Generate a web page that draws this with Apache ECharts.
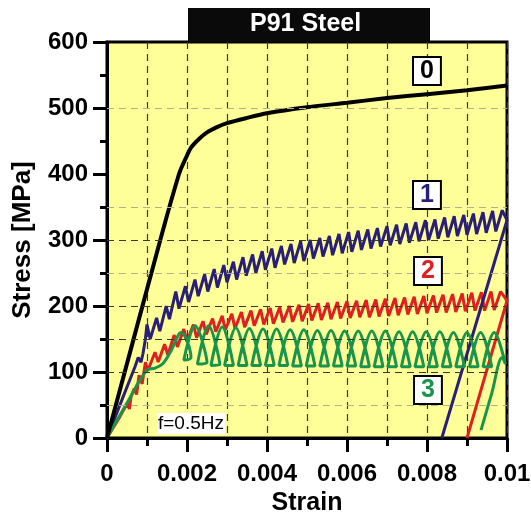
<!DOCTYPE html>
<html lang="en">
<head>
    <meta charset="UTF-8">
    <title>P91 Steel</title>
    <script src="https://cdn.jsdelivr.net/npm/echarts@6/dist/echarts.min.js"></script>
    <style type="text/css">
        body{ margin:0; background:#fff; }
        #main{ width:531px; height:517px; }
    </style>
</head>
<body>
<div id="main"></div>
<script type="application/javascript">
    // axis ticks
    var xTicks = [0, 0.002, 0.004, 0.006, 0.008, 0.01];
    var yTicks = [0, 100, 200, 300, 400, 500, 600];
    // horizontal dashed grid lines
    var gridDark = [100, 150, 200, 300];
    var gridGrey = [50, 250, 350, 500];

    // curve 0: monotonic tensile test
    var curve0 = [[0,0],[0.0014,315],[0.0018,400],[0.0019,415],[0.002,428],[0.0021,440],[0.0023,453],
        [0.0025,463],[0.00275,471],[0.003,477],[0.0035,485],[0.004,492],[0.005,501],[0.006,508],
        [0.007,515],[0.008,521],[0.009,527],[0.01,534]];

    // curve 1: serrated, then unloading
    var curve1 = [[0,0],[0.0004,62],[0.0007,108],[0.00078,122],[0.00085,115],[0.0009,128],[0.00096,150],
        [0.001,172],[0.00108,150],
        [0.00124,182],[0.00132,162],[0.00148,200],[0.00156,180],[0.00172,222],[0.0018,196],
        [0.00196,230],[0.00204,206],[0.0022,240],[0.00228,215],[0.00244,248],[0.00252,222],
        [0.00268,256],[0.00276,228],[0.00292,262],[0.003,236],[0.00316,267],[0.00324,240],
        [0.0034,274],[0.00348,246],[0.00364,278],[0.00372,250],[0.00388,283],[0.00396,255],
        [0.00412,287],[0.0042,258],[0.00436,291],[0.00444,263],[0.0046,294],[0.00468,265],
        [0.00484,298],[0.00492,268],[0.00508,300],[0.00516,272],[0.00532,303],[0.0054,275],
        [0.00556,306],[0.00564,277],[0.0058,309],[0.00588,280],[0.00604,312],[0.00612,282],
        [0.00628,314],[0.00636,285],[0.00652,316],[0.0066,287],[0.00676,318],[0.00684,290],
        [0.007,321],[0.00708,292],[0.00724,323],[0.00732,294],[0.00748,325],[0.00756,296],
        [0.00772,327],[0.0078,298],[0.00796,330],[0.00804,300],[0.0082,331],[0.00828,302],
        [0.00844,334],[0.00852,304],[0.00868,336],[0.00876,306],[0.00892,338],[0.009,308],
        [0.00916,340],[0.00924,309],[0.0094,342],[0.00948,311],[0.00964,344],[0.00972,313],
        [0.00988,345],[0.01,330],[0.00837,0]];

    // curve 2: serrated, then unloading
    var curve2 = [[0,0],[0.0003,30],[0.0005,52],[0.00056,44],[0.0006,62],
        [0.00068,75],[0.00074,66],[0.0008,95],[0.00088,82],[0.00096,115],[0.00102,102],
        [0.0012,130],[0.00128,115],[0.00144,142],[0.00152,126],[0.00168,156],[0.00176,138],
        [0.00192,165],[0.002,146],[0.00216,172],[0.00224,152],[0.0024,177],[0.00248,157],
        [0.00264,181],[0.00272,161],[0.00288,185],[0.00296,164],[0.00312,188],[0.0032,166],
        [0.00336,191],[0.00344,168],[0.0036,193],[0.00368,170],[0.00384,195],[0.00392,172],
        [0.00408,197],[0.00416,173],[0.00432,198],[0.0044,175],[0.00456,200],[0.00464,176],
        [0.0048,202],[0.00488,177],[0.00504,203],[0.00512,178],[0.00528,204],[0.00536,179],
        [0.00552,205],[0.0056,180],[0.00576,206],[0.00584,181],[0.006,207],[0.00608,182],
        [0.00624,208],[0.00632,183],[0.00648,209],[0.00656,183],[0.00672,210],[0.0068,184],
        [0.00696,211],[0.00704,185],[0.0072,212],[0.00728,186],[0.00744,213],[0.00752,187],
        [0.00768,214],[0.00776,188],[0.00792,215],[0.008,189],[0.00816,216],[0.00824,190],
        [0.0084,217],[0.00848,190],[0.00864,218],[0.00872,191],[0.00888,219],[0.00896,192],
        [0.00912,220],[0.0092,193],[0.00936,221],[0.00944,193],[0.0096,222],[0.00968,194],
        [0.00984,222],[0.01,208],[0.009,0]];

    // curve 3: looping band, then unloading
    var curve3 = [[0,0],[0.0005,53],[0.001,103],[0.0012,106],[0.0014,113],[0.0016,132],
        [0.00185,160],[0.0021,122],[0.00192,118],
        [0.0022,170],[0.0025,114],[0.00226,112],
        [0.00254,170],[0.00282,111],[0.0026,110],
        [0.00288,168],[0.00316,110],[0.00294,110],
        [0.00322,167],[0.0035,110],[0.00328,110],
        [0.00356,166],[0.00384,110],[0.00362,110],
        [0.0039,165],[0.00418,110],[0.00396,110],
        [0.00424,165],[0.00452,110],[0.0043,110],
        [0.00458,164],[0.00486,109],[0.00464,109],
        [0.00492,164],[0.0052,109],[0.00498,109],
        [0.00526,163],[0.00554,109],[0.00532,109],
        [0.0056,163],[0.00588,109],[0.00566,109],
        [0.00594,162],[0.00622,109],[0.006,109],
        [0.00628,162],[0.00656,108],[0.00634,108],
        [0.00662,162],[0.0069,108],[0.00668,108],
        [0.00696,162],[0.00724,108],[0.00702,108],
        [0.0073,161],[0.00758,108],[0.00736,108],
        [0.00764,161],[0.00792,108],[0.0077,108],
        [0.00798,161],[0.00826,108],[0.00804,108],
        [0.00832,161],[0.0086,108],[0.00838,108],
        [0.00866,160],[0.00894,108],[0.00872,108],
        [0.009,160],[0.00928,108],[0.00906,108],
        [0.00934,160],[0.00962,108],[0.0094,108],
        [0.00968,160],[0.00996,112],[0.00988,122],[0.00962,68],[0.00935,12]];

    var FONT = 'Liberation Sans';
    var myChart = echarts.init(document.getElementById('main'));

    var hLines = gridDark.map(function (v) {
        return { yAxis: v, lineStyle: { color: '#3a3a2a' } };
    }).concat(gridGrey.map(function (v) {
        return { yAxis: v, lineStyle: { color: '#b5b08a' } };
    }));

    function curve(name, data, color, width, smooth) {
        return {
            name: name, type: 'line', data: data, showSymbol: false, z: 3, smooth: smooth || false,
            lineStyle: { color: color, width: width }, itemStyle: { color: color }
        };
    }

    var boxStyle = function (txt, color, x, y) {
        return {
            type: 'text', left: x, top: y, z: 100,
            style: {
                text: txt, font: 'bold 25px ' + FONT, fill: color,
                backgroundColor: '#fff', borderColor: '#000', borderWidth: 2,
                padding: [1, 6, 0, 6]
            }
        };
    };

    myChart.setOption({
        animation: false,
        grid: {
            left: 107, right: 24, top: 42, bottom: 79,
            containLabel: false, outerBoundsMode: 'none',
            show: true, backgroundColor: '#ffff99', borderColor: '#000', borderWidth: 3
        },
        xAxis: {
            type: 'value', min: xTicks[0], max: xTicks[xTicks.length - 1], interval: 0.002,
            name: 'Strain', nameLocation: 'middle', nameGap: 52,
            nameTextStyle: { fontFamily: FONT, fontSize: 25, fontWeight: 'bold', color: '#000' },
            axisLine: { lineStyle: { color: '#000', width: 3 } },
            axisTick: { inside: false, length: 14, lineStyle: { width: 3, color: '#000' } },
            minorTick: { show: true, splitNumber: 2, length: 8, lineStyle: { width: 3, color: '#000' } },
            axisLabel: { fontFamily: FONT, fontSize: 24, fontWeight: 'bold', color: '#000', margin: 24,
                formatter: function (v) { return String(+v.toFixed(3)); } },
            splitLine: { show: true, lineStyle: { color: '#3a3a2a', type: [7, 5], width: 1.2 } },
            minorSplitLine: { show: true, lineStyle: { color: '#3a3a2a', type: [7, 5], width: 1.2 } }
        },
        yAxis: {
            type: 'value', min: yTicks[0], max: yTicks[yTicks.length - 1], interval: 100,
            name: 'Stress [MPa]', nameLocation: 'middle', nameGap: 71,
            nameTextStyle: { fontFamily: FONT, fontSize: 26, fontWeight: 'bold', color: '#000' },
            axisLine: { lineStyle: { color: '#000', width: 3 } },
            axisTick: { inside: false, length: 14, lineStyle: { width: 3, color: '#000' } },
            minorTick: { show: true, splitNumber: 2, length: 7, lineStyle: { width: 3, color: '#000' } },
            axisLabel: { fontFamily: FONT, fontSize: 24, fontWeight: 'bold', color: '#000', margin: 19 },
            splitLine: { show: false }
        },
        graphic: [
            { type: 'rect', left: 188, top: 8, z: 100, shape: { width: 242, height: 34 }, style: { fill: '#0a0a0a' } },
            { type: 'text', left: 250, top: 12, z: 101,
              style: { text: 'P91 Steel', font: 'bold 25px ' + FONT, fill: '#fff' } },
            boxStyle('0', '#000', 412, 56),
            boxStyle('1', '#2a1f78', 412, 180),
            boxStyle('2', '#e02020', 413, 256),
            boxStyle('3', '#18954a', 413, 375),
            { type: 'text', left: 157, top: 413, z: 100,
              style: { text: 'f=0.5Hz', font: '19px ' + FONT, fill: '#000',
                       backgroundColor: '#fff', padding: [1, 1, 1, 1] } }
        ],
        series: [
            {
                type: 'line', data: [], z: 1,
                markLine: {
                    silent: true, symbol: 'none', label: { show: false },
                    lineStyle: { type: [7, 5], width: 1.2 },
                    data: hLines
                }
            },
            curve('2', curve2, '#e02020', 3),
            curve('1', curve1, '#2a1f78', 3),
            curve('3', curve3, '#18954a', 3, 0.35),
            curve('0', curve0, '#000', 4, 0.3)
        ]
    });
</script>
</body>
</html>
